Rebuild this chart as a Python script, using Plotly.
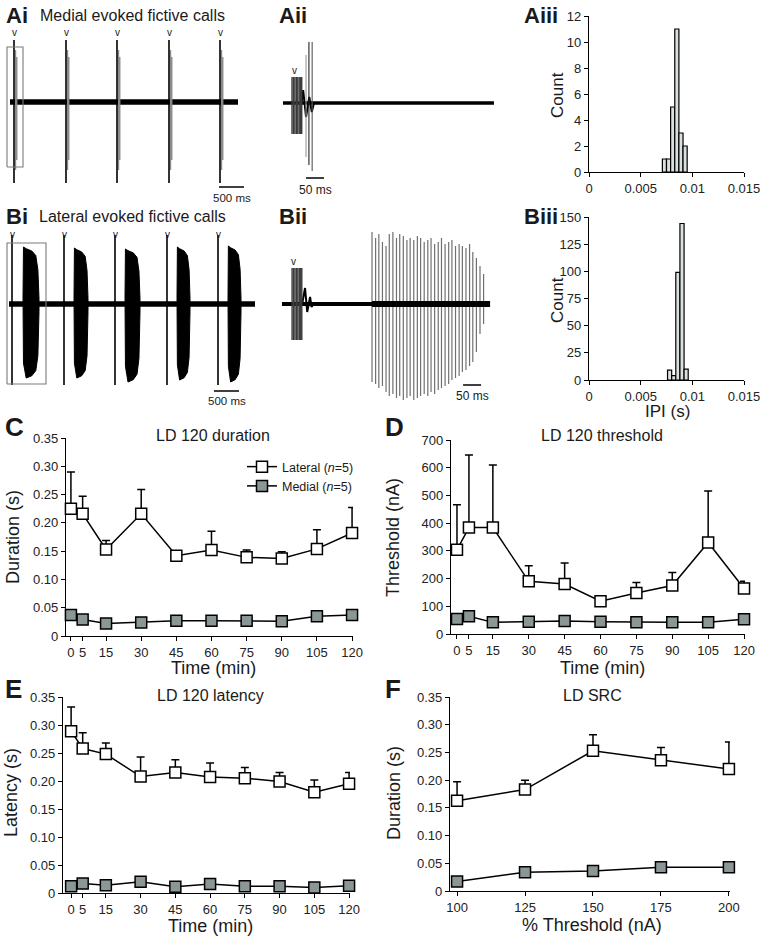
import plotly.graph_objects as go

W, H = 766, 938

# ---------------- data: summary panels ----------------
TIME_MIN = [0, 5, 15, 30, 45, 60, 75, 90, 105, 120]
DUR_LAT = [0.225, 0.216, 0.153, 0.216, 0.142, 0.152, 0.139, 0.137, 0.154, 0.182]
DUR_LAT_ERR = [0.065, 0.031, 0.016, 0.043, 0.008, 0.033, 0.013, 0.012, 0.034, 0.045]
DUR_MED = [0.037, 0.029, 0.022, 0.024, 0.027, 0.027, 0.027, 0.026, 0.035, 0.037]

THR_LAT = [304, 384, 384, 190, 180, 118, 148, 175, 330, 164]
THR_LAT_ERR = [162, 262, 226, 56, 76, 6, 38, 47, 186, 26]
THR_MED = [54, 64, 42, 44, 47, 44, 42, 42, 42, 53]

LAT_LAT = [0.289, 0.258, 0.248, 0.208, 0.215, 0.207, 0.205, 0.199, 0.180, 0.195]
LAT_LAT_ERR = [0.043, 0.028, 0.020, 0.035, 0.023, 0.025, 0.019, 0.016, 0.022, 0.020]
LAT_MED = [0.012, 0.017, 0.014, 0.020, 0.011, 0.016, 0.012, 0.012, 0.010, 0.013]

PCT_THR = [100, 125, 150, 175, 200]
SRC_LAT = [0.163, 0.183, 0.253, 0.236, 0.220]
SRC_LAT_ERR = [0.034, 0.017, 0.029, 0.023, 0.049]
SRC_MED = [0.017, 0.034, 0.036, 0.043, 0.043]

IPI_BIN_W = 0.0004
IPI_MED_CENTERS = [0.0073, 0.0077, 0.0081, 0.0085, 0.0089, 0.0093]
IPI_MED_COUNTS = [1, 1, 5, 11, 3, 2]
IPI_LAT_CENTERS = [0.0078, 0.0082, 0.0086, 0.0090, 0.0094]
IPI_LAT_COUNTS = [9, 4, 99, 144, 10]

# ---------------- data: recordings (ms, arbitrary amplitude units) ----------------
# Ai  medial overview
AI_STIM_T = [80, 1120, 2140, 3180, 4200]
AI_STIM_TOP, AI_STIM_BOT = 62, -81
AI_RESP_OFFSETS = [30, 55]
AI_RESP_TOP = [52, 45]
AI_RESP_BOT = [-68, -58]
AI_END = 4560
AI_BOX_T = [-60, 260]
AI_BOX_V = [-65, 55]
AI_SCALE_T0 = 4180

# Bi  lateral overview
BI_STIM_T = [60, 1100, 2120, 3160, 4180]
BI_STIM_TOP, BI_STIM_BOT = 69, -81
BI_BURST_START = [280, 1300, 2320, 3360, 4380]
BI_BURST_END = [600, 1580, 2620, 3620, 4640]
BI_BURST_TOP = [57, 56, 55, 57, 58]
BI_BURST_BOT = [-74, -74, -78, -76, -78]
BURST_FRAC = [0, 0.03, 0.2, 0.55, 0.8, 0.93, 1.0]
BURST_TOP_SHAPE = [0.1, 1.0, 0.97, 0.93, 0.85, 0.6, 0.1]
BURST_BOT_SHAPE = [0.1, 0.8, 1.0, 0.97, 0.9, 0.7, 0.1]
BI_END = 4920
BI_BOX_T = [-40, 740]
BI_BOX_V = [-80, 61]
BI_SCALE_T0 = 4100

SCALE_OVERVIEW_MS = 500
SCALE_ZOOM_MS = 50

# Aii medial expanded
AII_END = 586
AII_STIM_T = [25, 29, 33, 37, 41, 45, 49, 52]
AII_STIM_TOP, AII_STIM_BOT = 26, -31
AII_WAVE_T = [52, 56, 64, 73, 80, 86]
AII_WAVE_V = [0, 13, -14, 6, -9, 0]
AII_SPIKE_T = [64, 72, 81]
AII_SPIKE_TOP = [48, 61, 61]
AII_SPIKE_BOT = [-54, -62, -68]
AII_SCALE_T0 = 64

# Bii lateral expanded
BII_END = 578
BII_STIM_T = [28, 32, 36, 40, 44, 48, 52, 55]
BII_STIM_TOP, BII_STIM_BOT = 36, -36
BII_WAVE_T = [56, 64, 70, 78, 82, 88]
BII_WAVE_V = [0, 16, -8, 7, -3, 0]
BII_SPIKE_T = [250, 260, 269, 279, 289, 298, 308, 318, 327, 337, 347, 356, 366, 376, 385, 395, 405,
               414, 424, 434, 443, 453, 463, 472, 482, 492, 501, 511, 521, 530, 540, 550, 560]
BII_SPIKE_TOP = [72, 66, 70, 62, 58, 70, 72, 66, 70, 68, 64, 66, 64, 68, 66, 62, 64,
                 66, 60, 62, 66, 60, 62, 64, 58, 60, 58, 56, 60, 52, 46, 38, 30]
BII_SPIKE_BOT = [-78, -80, -84, -82, -88, -92, -90, -94, -92, -96, -94, -92, -96, -94, -92, -90, -92,
                 -88, -90, -86, -84, -82, -80, -76, -74, -72, -68, -66, -62, -58, -48, -30, -20]
BII_BURST_ONSET = 250
BII_SCALE_T0 = 503

FONT = "Liberation Sans, Arial, Helvetica, sans-serif"
MED_COLOR = "#8b9796"

fig = go.Figure()
layout = dict(width=W, height=H, margin=dict(l=0, r=0, t=0, b=0, autoexpand=False),
              paper_bgcolor="white", plot_bgcolor="white",
              font=dict(family=FONT, color="#1a1a1a"), showlegend=True)


def ax_names(i):
    s = "" if i == 1 else str(i)
    return "xaxis" + s, "yaxis" + s, "x" + s, "y" + s


def make_axes(i, xpx, ypx, xr, yr, visible=True, xt=None, yt=None):
    xk, yk, xa, ya = ax_names(i)
    base = dict(showgrid=False, zeroline=False, fixedrange=True, automargin=False)
    xd = dict(base, domain=[xpx[0] / W, xpx[1] / W], range=xr, anchor=ya)
    yd = dict(base, domain=[1 - ypx[1] / H, 1 - ypx[0] / H], range=yr, anchor=xa)
    if visible:
        sty = dict(showline=True, linecolor="black", linewidth=1.2, ticks="outside",
                   ticklen=4, tickwidth=1.2, tickcolor="black",
                   tickfont=dict(size=13, color="#222", family=FONT))
        xd.update(sty)
        yd.update(sty)
        if xt:
            xd.update(tickmode="array", tickvals=xt[0], ticktext=xt[1])
        if yt:
            yd.update(tickmode="array", tickvals=yt[0], ticktext=yt[1])
    else:
        xd.update(visible=False)
        yd.update(visible=False)
    layout[xk] = xd
    layout[yk] = yd
    return xa, ya


def vlines(ts, tops, bots):
    xs, ys = [], []
    for t, a, b in zip(ts, tops, bots):
        xs += [t, t, None]
        ys += [a, b, None]
    return xs, ys


def line(xa, ya, x, y, color="black", width=1.2, fill=None):
    fig.add_trace(go.Scatter(x=x, y=y, mode="lines", xaxis=xa, yaxis=ya, showlegend=False,
                             hoverinfo="skip", line=dict(color=color, width=width),
                             fill=fill, fillcolor=color if fill else None))


ann = []


def text(t, x, y, size=12, xref="paper", yref="paper", xanchor="center", yanchor="middle",
         bold=False, angle=0, color="#1a1a1a"):
    if xref == "paper":
        x = x / W
    if yref == "paper":
        y = 1 - y / H
    ann.append(dict(text=("<b>%s</b>" % t) if bold else t, x=x, y=y, xref=xref, yref=yref,
                    xanchor=xanchor, yanchor=yanchor, showarrow=False, textangle=angle,
                    font=dict(size=size, color=color, family=FONT)))


# ---------------- Ai ----------------
xa, ya = make_axes(1, (5, 255), (25, 210), [-100, 4900], [-108, 77], visible=False)
line(xa, ya, [0, AI_END], [0, 0], width=5.5)
rx, ry = [], []
for t in AI_STIM_T:
    for o, a, b in zip(AI_RESP_OFFSETS, AI_RESP_TOP, AI_RESP_BOT):
        rx += [t + o, t + o, None]
        ry += [a, b, None]
line(xa, ya, rx, ry, color="#8a8a8a", width=1.4)
sx, sy = vlines(AI_STIM_T, [AI_STIM_TOP] * 5, [AI_STIM_BOT] * 5)
line(xa, ya, sx, sy, width=1.6)
line(xa, ya, [AI_BOX_T[0], AI_BOX_T[1], AI_BOX_T[1], AI_BOX_T[0], AI_BOX_T[0]],
     [AI_BOX_V[0], AI_BOX_V[0], AI_BOX_V[1], AI_BOX_V[1], AI_BOX_V[0]], color="#7a7a7a", width=1.1)
line(xa, ya, [AI_SCALE_T0, AI_SCALE_T0 + SCALE_OVERVIEW_MS], [-85, -85], width=1.5)
text("500 ms", AI_SCALE_T0 + SCALE_OVERVIEW_MS / 2, -88, 11.5, xref=xa, yref=ya, yanchor="top")
for t in AI_STIM_T:
    text("v", t, 69, 10, xref=xa, yref=ya)

# ---------------- Bi ----------------
xa, ya = make_axes(2, (5, 262), (225, 410), [-80, 5060], [-106, 79], visible=False)
line(xa, ya, [0, BI_END], [0, 0], width=5.5)
for s, e, tp, bt in zip(BI_BURST_START, BI_BURST_END, BI_BURST_TOP, BI_BURST_BOT):
    px_ = [s + f * (e - s) for f in BURST_FRAC]
    top = [tp * k for k in BURST_TOP_SHAPE]
    bot = [bt * k for k in BURST_BOT_SHAPE]
    line(xa, ya, px_ + px_[::-1] + [px_[0]], top + bot[::-1] + [top[0]], fill="toself", width=1)
sx, sy = vlines(BI_STIM_T, [BI_STIM_TOP] * 5, [BI_STIM_BOT] * 5)
line(xa, ya, sx, sy, width=1.6)
line(xa, ya, [BI_BOX_T[0], BI_BOX_T[1], BI_BOX_T[1], BI_BOX_T[0], BI_BOX_T[0]],
     [BI_BOX_V[0], BI_BOX_V[0], BI_BOX_V[1], BI_BOX_V[1], BI_BOX_V[0]], color="#7a7a7a", width=1.1)
line(xa, ya, [BI_SCALE_T0, BI_SCALE_T0 + SCALE_OVERVIEW_MS], [-87, -87], width=1.5)
text("500 ms", BI_SCALE_T0 + SCALE_OVERVIEW_MS / 2, -89, 11.5, xref=xa, yref=ya, yanchor="top")
for t in BI_STIM_T:
    text("v", t, 70, 10, xref=xa, yref=ya)

# ---------------- Aii ----------------
k = 50 / 18
xa, ya = make_axes(3, (280, 500), (35, 200), [-3 * k, 217 * k], [-97, 68], visible=False)
line(xa, ya, [0, AII_END], [0, 0], width=3.5)
line(xa, ya, AII_WAVE_T, AII_WAVE_V, width=2)
n = len(AII_STIM_T)
sx, sy = vlines(AII_STIM_T, [AII_STIM_TOP] * n, [AII_STIM_BOT] * n)
line(xa, ya, sx, sy, color="#3a3a3a", width=1.4)
for t, a, b, c in zip(AII_SPIKE_T, AII_SPIKE_TOP, AII_SPIKE_BOT, ["#9a9a9a", "#222", "#555"]):
    line(xa, ya, [t, t], [a, b], color=c, width=1.1)
line(xa, ya, [AII_SCALE_T0, AII_SCALE_T0 + SCALE_ZOOM_MS], [-75, -75], width=1.5)
text("50 ms", AII_SCALE_T0 + SCALE_ZOOM_MS / 2, -78, 12, xref=xa, yref=ya, yanchor="top")
text("v", 31, 33, 10, xref=xa, yref=ya)

# ---------------- Bii ----------------
xa, ya = make_axes(4, (280, 500), (225, 405), [-2 * k, 218 * k], [-101, 79], visible=False)
sx, sy = vlines(BII_SPIKE_T, BII_SPIKE_TOP, BII_SPIKE_BOT)
line(xa, ya, sx, sy, color="#707070", width=1.2)
line(xa, ya, [0, BII_BURST_ONSET], [0, 0], width=4)
line(xa, ya, [BII_BURST_ONSET, BII_END], [0, 0], width=6)
line(xa, ya, BII_WAVE_T, BII_WAVE_V, width=2)
n = len(BII_STIM_T)
sx, sy = vlines(BII_STIM_T, [BII_STIM_TOP] * n, [BII_STIM_BOT] * n)
line(xa, ya, sx, sy, color="#3a3a3a", width=1.4)
line(xa, ya, [BII_SCALE_T0, BII_SCALE_T0 + SCALE_ZOOM_MS], [-81, -81], width=1.5)
text("50 ms", BII_SCALE_T0 + SCALE_ZOOM_MS / 2, -83, 12, xref=xa, yref=ya, yanchor="top")
text("v", 33, 43, 10, xref=xa, yref=ya)

# ---------------- histograms ----------------
ipi_ticks = ([0, 0.005, 0.01, 0.015], ["0", "0.005", "0.01", "0.015"])
xa, ya = make_axes(5, (589, 744), (16, 172), [0, 0.015], [0, 12], xt=ipi_ticks,
                   yt=([0, 2, 4, 6, 8, 10, 12], ["0", "2", "4", "6", "8", "10", "12"]))
fig.add_trace(go.Bar(x=IPI_MED_CENTERS, y=IPI_MED_COUNTS, width=IPI_BIN_W, xaxis=xa, yaxis=ya,
                     showlegend=False, marker=dict(color="#dadfdf", line=dict(color="black", width=1.2))))
xa, ya = make_axes(6, (589, 744), (217, 380), [0, 0.015], [0, 150], xt=ipi_ticks,
                   yt=([0, 25, 50, 75, 100, 125, 150], ["0", "25", "50", "75", "100", "125", "150"]))
fig.add_trace(go.Bar(x=IPI_LAT_CENTERS, y=IPI_LAT_COUNTS, width=IPI_BIN_W, xaxis=xa, yaxis=ya,
                     showlegend=False, marker=dict(color="#dadfdf", line=dict(color="black", width=1.2))))


# ---------------- summary panels ----------------
def add_pair(xa, ya, x, lat, err, med, legend=False):
    fig.add_trace(go.Scatter(
        x=x, y=lat, mode="lines+markers", xaxis=xa, yaxis=ya, name="Lateral (<i>n</i>=5)",
        showlegend=legend, cliponaxis=False, line=dict(color="black", width=1.5),
        marker=dict(symbol="square", size=11, color="white", line=dict(color="black", width=1.5)),
        error_y=dict(type="data", array=err, arrayminus=[0] * len(err), symmetric=False,
                     color="black", thickness=1.5, width=4)))
    fig.add_trace(go.Scatter(
        x=x, y=med, mode="lines+markers", xaxis=xa, yaxis=ya, name="Medial (<i>n</i>=5)",
        showlegend=legend, cliponaxis=False, line=dict(color="black", width=1.5),
        marker=dict(symbol="square", size=11, color=MED_COLOR, line=dict(color="black", width=1.5))))


time_ticks = (TIME_MIN, [str(v) for v in TIME_MIN])
s_ticks = ([0, 0.05, 0.10, 0.15, 0.20, 0.25, 0.30, 0.35],
           ["0", "0.05", "0.10", "0.15", "0.20", "0.25", "0.30", "0.35"])

xa, ya = make_axes(7, (66, 353), (438, 636), [-2.1, 120.4], [0, 0.35], xt=time_ticks, yt=s_ticks)
add_pair(xa, ya, TIME_MIN, DUR_LAT, DUR_LAT_ERR, DUR_MED, legend=True)

xa, ya = make_axes(8, (451, 745), (440, 634), [-2.5, 120.4], [0, 700], xt=time_ticks,
                   yt=([0, 100, 200, 300, 400, 500, 600, 700],
                       ["0", "100", "200", "300", "400", "500", "600", "700"]))
add_pair(xa, ya, TIME_MIN, THR_LAT, THR_LAT_ERR, THR_MED)

xa, ya = make_axes(9, (63, 350), (697, 893), [-3.5, 120.4], [0, 0.35], xt=time_ticks, yt=s_ticks)
add_pair(xa, ya, TIME_MIN, LAT_LAT, LAT_LAT_ERR, LAT_MED)

xa, ya = make_axes(10, (450, 730), (697, 891), [97.4, 200.4], [0, 0.35],
                   xt=(PCT_THR, [str(v) for v in PCT_THR]), yt=s_ticks)
add_pair(xa, ya, PCT_THR, SRC_LAT, SRC_LAT_ERR, SRC_MED)

# ---------------- text ----------------
for lab, x, y in [("Ai", 4, 15), ("Aii", 277, 15), ("Aiii", 522, 15), ("Bi", 4, 216),
                  ("Bii", 277, 216), ("Biii", 522, 216)]:
    text(lab, x, y, 22, xanchor="left", bold=True)
for lab, x, y in [("C", 3, 427), ("D", 383, 427), ("E", 3, 689), ("F", 383, 689)]:
    text(lab, x, y, 26, xanchor="left", bold=True)
text("Medial evoked fictive calls", 38, 16, 16, xanchor="left")
text("Lateral evoked fictive calls", 37, 216, 16, xanchor="left")
text("LD 120 duration", 213, 436, 16)
text("LD 120 threshold", 602, 436, 16)
text("LD 120 latency", 210, 695, 16)
text("LD SRC", 592, 695, 16)
text("Duration (s)", 13, 537, 18, angle=-90)
text("Threshold (nA)", 393, 537, 18, angle=-90)
text("Latency (s)", 11, 793, 18, angle=-90)
text("Duration (s)", 394, 793, 18, angle=-90)
text("Time (min)", 213, 668, 18)
text("Time (min)", 602, 668, 18)
text("Time (min)", 210, 926, 18)
text("% Threshold (nA)", 592, 925, 18)
text("Count", 557, 95, 17, angle=-90)
text("Count", 557, 300, 17, angle=-90)
text("IPI (s)", 667, 412, 17)

layout["annotations"] = ann
layout["legend"] = dict(x=242 / W, y=1 - 452 / H, xanchor="left", yanchor="top",
                        bgcolor="rgba(0,0,0,0)", font=dict(size=12.5, family=FONT, color="#1a1a1a"),
                        tracegroupgap=0, itemwidth=30)
fig.update_layout(**layout)
fig.write_html("out.html", config={"displayModeBar": False},
               post_script="document.body.style.margin='0';document.body.style.padding='0';")
